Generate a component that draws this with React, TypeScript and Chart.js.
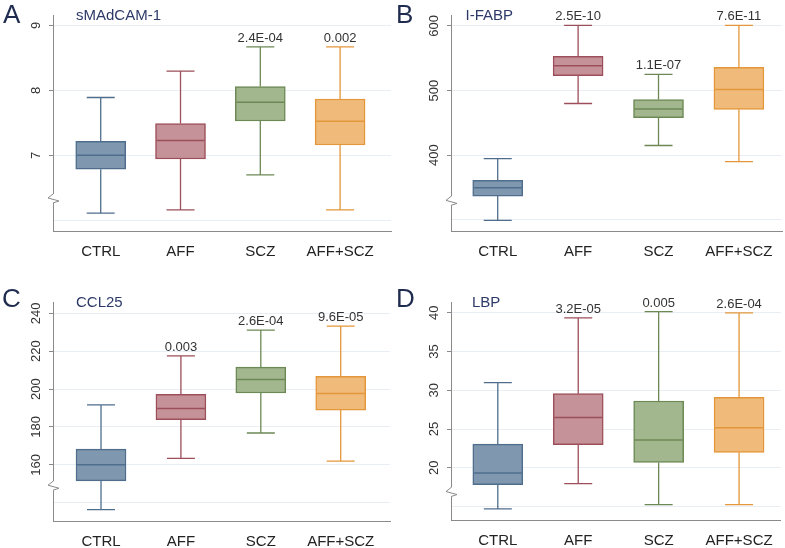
import React, { useEffect, useRef } from 'react';
import { Chart, registerables } from 'chart.js';
Chart.register(...registerables);

// ---------- data ----------
const categories = ['CTRL', 'AFF', 'SCZ', 'AFF+SCZ'];

// Panel A: sMAdCAM-1
const aMin = [6.11, 6.16, 6.70, 6.16];
const aQ1 = [6.785, 6.944, 7.528, 7.159];
const aMed = [7.0, 7.23, 7.815, 7.523];
const aQ3 = [7.215, 7.49, 8.06, 7.867];
const aMax = [7.89, 8.297, 8.67, 8.67];
const aP = ['', '', '2.4E-04', '0.002'];
const aTicks = [6, 7, 8, 9];
const aTickLabels = ['', '7', '8', '9'];

// Panel B: I-FABP
const bMin = [299, 480, 415, 390];
const bQ1 = [336.7, 523, 458, 471];
const bMed = [349.6, 538.5, 471.5, 501.5];
const bQ3 = [361, 553, 486, 536];
const bMax = [394.8, 601, 525, 601];
const bP = ['', '2.5E-10', '1.1E-07', '7.6E-11'];
const bTicks = [300, 400, 500, 600];
const bTickLabels = ['', '400', '500', '600'];

// Panel C: CCL25
const cMin = [136.3, 163.4, 176.8, 161.9];
const cQ1 = [151.5, 183.8, 197.9, 188.9];
const cMed = [160, 189.8, 205, 197.7];
const cQ3 = [168.3, 197.2, 211.6, 206.7];
const cMax = [191.7, 217.5, 231.1, 233.3];
const cP = ['', '0.003', '2.6E-04', '9.6E-05'];
const cTicks = [140, 160, 180, 200, 220, 240];
const cTickLabels = ['', '160', '180', '200', '220', '240'];

// Panel D: LBP
const dMin = [14.7, 17.97, 15.26, 15.26];
const dQ1 = [17.84, 23.0, 20.7, 22.0];
const dMed = [19.35, 26.5, 23.6, 25.17];
const dQ3 = [23.06, 29.57, 28.62, 29.1];
const dMax = [31.0, 39.35, 40.17, 40.0];
const dP = ['', '3.2E-05', '0.005', '2.6E-04'];
const dTicks = [15, 20, 25, 30, 35, 40];
const dTickLabels = ['', '20', '25', '30', '35', '40'];

// ---------- styles ----------
const fillColors = ['#7f97af', '#c6929a', '#a3b78e', '#f0bb7a'];
const lineColors = ['#4f6e8d', '#9c4f5a', '#6c8955', '#e4973a'];
const AXIS = '#8a8a8a';
const GRID = '#e8eef3';
const FONT = '"Liberation Sans", Arial, Helvetica, sans-serif';

type Panel = {
  letter: string; title: string;
  min: number[]; q1: number[]; med: number[]; q3: number[]; max: number[]; p: string[];
  ticks: number[]; tickLabels: string[];
  yMin: number; yMax: number; xMin: number; xMax: number; breakAt: number;
  left: number; top: number; w: number; h: number;
  area: { l: number; t: number; r: number; b: number };
  letterPos: [number, number]; titlePos: [number, number];
};

const panels: Panel[] = [
  {
    letter: 'A', title: 'sMAdCAM-1', min: aMin, q1: aQ1, med: aMed, q3: aQ3, max: aMax, p: aP,
    ticks: aTicks, tickLabels: aTickLabels, yMin: 5.835, yMax: 9.16, xMin: -0.598, xMax: 3.638, breakAt: 6.343,
    left: 0, top: 0, w: 392, h: 274, area: { l: 53, t: 15, r: 391, b: 231 },
    letterPos: [3, 0.7], titlePos: [76, 7.3],
  },
  {
    letter: 'B', title: 'I-FABP', min: bMin, q1: bQ1, med: bMed, q3: bQ3, max: bMax, p: bP,
    ticks: bTicks, tickLabels: bTickLabels, yMin: 282.6, yMax: 617, xMin: -0.581, xMax: 3.536, breakAt: 330,
    left: 392, top: 0, w: 393, h: 274, area: { l: 59, t: 15, r: 390, b: 231 },
    letterPos: [396, 0.7], titlePos: [465.6, 6.6],
  },
  {
    letter: 'C', title: 'CCL25', min: cMin, q1: cQ1, med: cMed, q3: cQ3, max: cMax, p: cP,
    ticks: cTicks, tickLabels: cTickLabels, yMin: 130.3, yMax: 246, xMin: -0.601, xMax: 3.617, breakAt: 149.2,
    left: 0, top: 274, w: 392, h: 274, area: { l: 53, t: 28, r: 390, b: 247 },
    letterPos: [2, 285.3], titlePos: [76, 294],
  },
  {
    letter: 'D', title: 'LBP', min: dMin, q1: dQ1, med: dMed, q3: dQ3, max: dMax, p: dP,
    ticks: dTicks, tickLabels: dTickLabels, yMin: 13.27, yMax: 41.4, xMin: -0.582, xMax: 3.519, breakAt: 16.94,
    left: 392, top: 274, w: 393, h: 274, area: { l: 59, t: 28, r: 390, b: 246 },
    letterPos: [396, 285.3], titlePos: [472, 294],
  },
];

function makeChart(canvas: HTMLCanvasElement, pn: Panel) {
  const BOX_W = 50;
  const CAP = 14;
  const extras = {
    id: 'boxExtras',
    beforeDatasetsDraw(chart: any) {
      const { ctx, scales } = chart;
      const xs = scales.x, ys = scales.y;
      ctx.save();
      ctx.lineWidth = 1.3;
      categories.forEach((_, i) => {
        const x = xs.getPixelForValue(i);
        ctx.strokeStyle = lineColors[i];
        const yMax = ys.getPixelForValue(pn.max[i]);
        const yMin = ys.getPixelForValue(pn.min[i]);
        const yQ1 = ys.getPixelForValue(pn.q1[i]);
        const yQ3 = ys.getPixelForValue(pn.q3[i]);
        ctx.beginPath();
        ctx.moveTo(x, yQ3); ctx.lineTo(x, yMax);
        ctx.moveTo(x - CAP, yMax); ctx.lineTo(x + CAP, yMax);
        ctx.moveTo(x, yQ1); ctx.lineTo(x, yMin);
        ctx.moveTo(x - CAP, yMin); ctx.lineTo(x + CAP, yMin);
        ctx.stroke();
      });
      ctx.restore();
    },
    afterDatasetsDraw(chart: any) {
      const { ctx, scales } = chart;
      const xs = scales.x, ys = scales.y;
      ctx.save();
      categories.forEach((_, i) => {
        const x = xs.getPixelForValue(i);
        const ym = ys.getPixelForValue(pn.med[i]);
        ctx.strokeStyle = lineColors[i];
        ctx.lineWidth = 1.5;
        ctx.beginPath();
        ctx.moveTo(x - BOX_W / 2 + 1, ym); ctx.lineTo(x + BOX_W / 2 - 1, ym);
        ctx.stroke();
        if (pn.p[i]) {
          ctx.fillStyle = '#333';
          ctx.font = `13px ${FONT}`;
          ctx.textAlign = 'center';
          ctx.textBaseline = 'alphabetic';
          ctx.fillText(pn.p[i], x, ys.getPixelForValue(pn.max[i]) - 5);
        }
      });
      ctx.restore();
    },
    afterDraw(chart: any) {
      const { ctx, scales } = chart;
      const ys = scales.y;
      const ax = chart.chartArea.left;
      ctx.save();
      // rotated y tick labels
      ctx.fillStyle = '#333';
      ctx.font = `13px ${FONT}`;
      ctx.textAlign = 'center';
      ctx.textBaseline = 'middle';
      pn.ticks.forEach((v, i) => {
        const lbl = pn.tickLabels[i];
        if (!lbl) return;
        const y = ys.getPixelForValue(v);
        ctx.save();
        ctx.translate(ax - 17, y);
        ctx.rotate(-Math.PI / 2);
        ctx.fillText(lbl, 0, 0);
        ctx.restore();
      });
      // axis break mark
      const yb = ys.getPixelForValue(pn.breakAt);
      ctx.fillStyle = '#fff';
      ctx.fillRect(ax - 2, yb - 4, 4, 9);
      ctx.strokeStyle = AXIS;
      ctx.lineWidth = 1;
      ctx.beginPath();
      ctx.moveTo(ax, yb - 4);
      ctx.lineTo(ax - 5, yb);
      ctx.lineTo(ax + 6, yb + 3);
      ctx.lineTo(ax, yb + 5);
      ctx.stroke();
      ctx.restore();
    },
  };

  return new Chart(canvas, {
    type: 'bar',
    data: {
      datasets: [
        {
          data: categories.map((_, i) => ({ x: i, y: [pn.q1[i], pn.q3[i]] })) as any,
          backgroundColor: fillColors,
          borderColor: lineColors,
          borderWidth: 1.5,
          borderSkipped: false,
          barThickness: BOX_W,
        },
      ],
    },
    options: {
      responsive: false,
      animation: false,
      devicePixelRatio: 1,
      layout: { padding: { top: pn.area.t, right: pn.w - pn.area.r, bottom: 0, left: 0 } },
      plugins: { legend: { display: false }, tooltip: { enabled: false }, title: { display: false } },
      scales: {
        x: {
          type: 'linear',
          min: pn.xMin,
          max: pn.xMax,
          offset: false,
          grid: { display: false, drawTicks: false },
          border: { display: true, color: AXIS, width: 1 },
          ticks: {
            font: { family: FONT, size: 15 },
            color: '#222',
            padding: 12,
            maxRotation: 0,
            autoSkip: false,
            callback: (v: any) => categories[v as number] ?? '',
          },
          afterBuildTicks: (s: any) => { s.ticks = categories.map((_, i) => ({ value: i })); },
          afterFit: (s: any) => { s.height = pn.h - pn.area.b; },
        },
        y: {
          type: 'linear',
          min: pn.yMin,
          max: pn.yMax,
          grid: {
            color: GRID,
            lineWidth: 1,
            drawTicks: true,
            tickLength: 4,
            tickColor: (c: any) => {
              const idx = pn.ticks.indexOf(c.tick ? c.tick.value : NaN);
              return idx >= 0 && pn.tickLabels[idx] ? AXIS : 'rgba(0,0,0,0)';
            },
          },
          border: { display: true, color: AXIS, width: 1 },
          ticks: { display: false },
          afterBuildTicks: (s: any) => { s.ticks = pn.ticks.map((v) => ({ value: v })); },
          afterFit: (s: any) => { s.width = pn.area.l; },
        },
      },
    },
    plugins: [extras],
  });
}

export default function App() {
  const refs = useRef<(HTMLCanvasElement | null)[]>([]);
  useEffect(() => {
    const charts = panels.map((pn, i) => makeChart(refs.current[i] as HTMLCanvasElement, pn));
    return () => charts.forEach((c) => c.destroy());
  }, []);

  return (
    <div style={{ position: 'fixed', left: 0, top: 0, width: 785, height: 548, background: '#fff', overflow: 'hidden' }}>
      {panels.map((pn, i) => (
        <canvas
          key={'c' + i}
          ref={(el) => { refs.current[i] = el; }}
          width={pn.w}
          height={pn.h}
          style={{ position: 'absolute', left: pn.left, top: pn.top, width: pn.w, height: pn.h }}
        />
      ))}
      {panels.map((pn, i) => (
        <div
          key={'l' + i}
          style={{ position: 'absolute', left: pn.letterPos[0], top: pn.letterPos[1], fontFamily: FONT, fontSize: 26, lineHeight: 1, color: '#1f2c50', whiteSpace: 'nowrap' }}
        >
          {pn.letter}
        </div>
      ))}
      {panels.map((pn, i) => (
        <div
          key={'t' + i}
          style={{ position: 'absolute', left: pn.titlePos[0], top: pn.titlePos[1], fontFamily: FONT, fontSize: 15, lineHeight: 1, color: '#2d3a68', whiteSpace: 'nowrap' }}
        >
          {pn.title}
        </div>
      ))}
    </div>
  );
}
